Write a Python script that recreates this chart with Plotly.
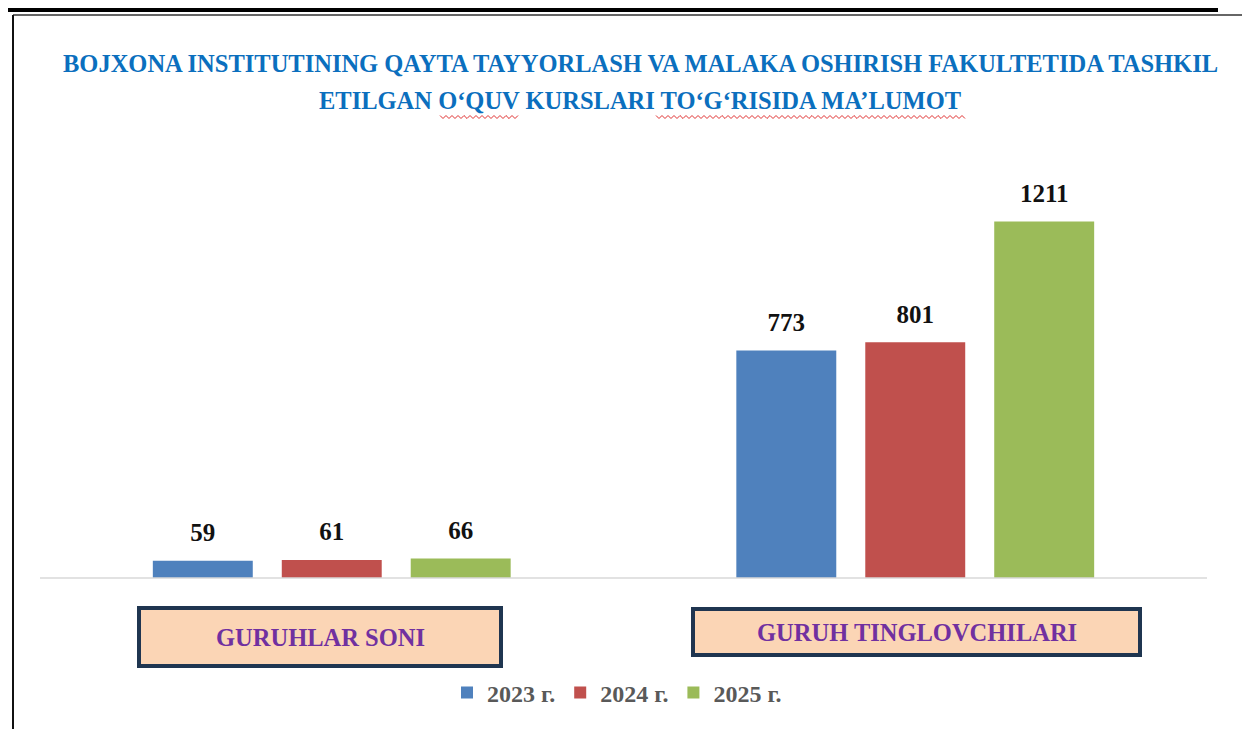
import plotly.graph_objects as go

categories = ["GURUHLAR SONI", "GURUH TINGLOVCHILARI"]
series_names = ["2023 г.", "2024 г.", "2025 г."]
values_2023 = [59, 773]
values_2024 = [61, 801]
values_2025 = [66, 1211]
series_values = [values_2023, values_2024, values_2025]
colors = ["#4F81BD", "#C0504D", "#9BBB59"]

title_line1 = "BOJXONA INSTITUTINING QAYTA TAYYORLASH VA MALAKA OSHIRISH FAKULTETIDA TASHKIL"
title_line2 = "ETILGAN O‘QUV KURSLARI TO‘G‘RISIDA MA’LUMOT"

# page offset of the figure inside the html body
OFF = 8
W, H = 1250 - OFF, 729 - OFF
L, R, T, B = 40 - OFF, 43, 166 - OFF, 151
PW, PH = W - L - R, H - T - B
LABEL_PAD = 40  # vertical gap between bar top and its label, in data units


def px(x):
    return (x - OFF - L) / PW


def py(y):
    return (H - B - (y - OFF)) / PH


def wavy_path(x0, x1, y, step=3.0, amp=1.5):
    pts = []
    x = x0
    k = 0
    while x <= x1:
        yy = y + (amp if k % 2 else -amp)
        pts.append("%s%.5f,%.5f" % ("M" if k == 0 else "L", px(x), py(yy)))
        x += step
        k += 1
    return " ".join(pts)


fig = go.Figure()
for i, (name, vals, col) in enumerate(zip(series_names, series_values, colors)):
    fig.add_trace(go.Bar(
        x=categories, y=vals, name="<b>" + name + "</b>",
        marker=dict(color=col, line=dict(width=0)),
        offsetgroup=str(i), hoverinfo="x+y",
    ))
for i, vals in enumerate(series_values):
    fig.add_trace(go.Bar(
        x=categories, y=[LABEL_PAD] * len(vals), base=vals,
        marker=dict(color="rgba(0,0,0,0)", line=dict(width=0)),
        text=["<b>%d</b>" % v for v in vals], textposition="outside",
        textfont=dict(family="Liberation Serif", size=25, color="#111111"),
        offsetgroup=str(i), showlegend=False, hoverinfo="skip", cliponaxis=False,
    ))

shapes = []
# page frame decorations
shapes.append(dict(type="line", xref="paper", yref="paper", x0=px(5), x1=px(1218), y0=py(10), y1=py(10),
                   line=dict(color="#000000", width=4)))
shapes.append(dict(type="line", xref="paper", yref="paper", x0=px(13), x1=px(1252), y0=py(15), y1=py(15),
                   line=dict(color="#333333", width=1.5)))
shapes.append(dict(type="line", xref="paper", yref="paper", x0=px(13), x1=px(13), y0=py(15), y1=py(731),
                   line=dict(color="#111111", width=2)))
# baseline
shapes.append(dict(type="line", xref="paper", yref="paper", x0=0, x1=1, y0=0, y1=0,
                   line=dict(color="#D9D9D9", width=1.5)))
# category boxes
boxes = [(139, 501, 608, 666), (693, 1140, 609, 655)]
for (x0, x1, y0, y1) in boxes:
    shapes.append(dict(type="rect", xref="paper", yref="paper", x0=px(x0), x1=px(x1), y0=py(y1), y1=py(y0),
                       fillcolor="#FBD5B5", line=dict(color="#1F3550", width=4)))
# spellcheck wavy underlines
for (x0, x1) in [(440, 518), (656, 966)]:
    shapes.append(dict(type="path", xref="paper", yref="paper", path=wavy_path(x0, x1, 117),
                       line=dict(color="#E03030", width=1)))

annotations = []
annotations.append(dict(text="<b>" + title_line1 + "</b>", xref="paper", yref="paper", x=px(640), y=py(63),
                        showarrow=False, font=dict(family="Liberation Serif", size=24.5, color="#0B6FBE"),
                        xanchor="center", yanchor="middle"))
annotations.append(dict(text="<b>" + title_line2 + "</b>", xref="paper", yref="paper", x=px(640), y=py(100),
                        showarrow=False, font=dict(family="Liberation Serif", size=24.5, color="#0B6FBE"),
                        xanchor="center", yanchor="middle"))
box_centers = [((139 + 501) / 2, 637), ((693 + 1140) / 2, 632)]
for cat, (cx, cy) in zip(categories, box_centers):
    annotations.append(dict(text="<b>" + cat + "</b>", xref="paper", yref="paper", x=px(cx), y=py(cy),
                            showarrow=False, font=dict(family="Liberation Serif", size=24.5, color="#7030A0"),
                            xanchor="center", yanchor="middle"))

fig.update_layout(
    width=W, height=H,
    margin=dict(l=L, r=R, t=T, b=B),
    paper_bgcolor="white", plot_bgcolor="white",
    barmode="group", bargap=0.337, bargroupgap=0.225,
    showlegend=True,
    legend=dict(orientation="h", x=px(617), y=py(693), xanchor="center", yanchor="middle",
                font=dict(family="Liberation Serif", size=24, color="#595959"),
                itemwidth=30, bgcolor="rgba(0,0,0,0)"),
    xaxis=dict(showticklabels=False, showgrid=False, zeroline=False, showline=False, ticks=""),
    yaxis=dict(range=[0, 1400], visible=False, showgrid=False, zeroline=False),
    shapes=shapes,
    annotations=annotations,
)

fig.write_html("out.html")
